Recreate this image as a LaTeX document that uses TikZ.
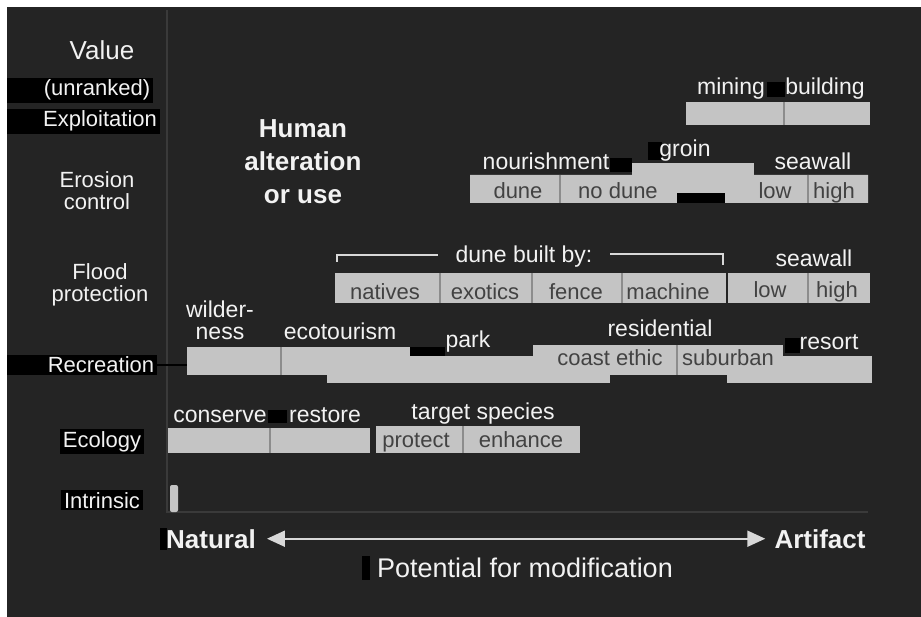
\documentclass[tikz,border=0pt]{standalone}
\usepackage{fontspec}
\setmainfont{Liberation Sans}
\usetikzlibrary{arrows.meta}
\definecolor{bg}{HTML}{242424}
\definecolor{barfill}{HTML}{C4C4C4}
\definecolor{bartext}{HTML}{424242}
\definecolor{divcol}{HTML}{8C8C8C}
\definecolor{axiscol}{HTML}{3A3A3A}
\definecolor{labcol}{HTML}{F2F2F2}
\definecolor{arrcol}{HTML}{D8D8D8}
\begin{document}
\begin{tikzpicture}[x=1pt,y=-1pt,
  lab/.style={text=labcol, font=\fontsize{23}{24}\selectfont, inner sep=0pt},
  side/.style={text=labcol, font=\fontsize{22}{22}\selectfont, fill=black, inner xsep=3pt, inner ysep=2pt},
  bin/.style={text=bartext, font=\fontsize{22}{22}\selectfont, inner sep=0pt},
  big/.style={text=labcol, font=\bfseries\fontsize{26}{28}\selectfont, inner sep=0pt},
  bar/.style={fill=barfill},
  divider/.style={draw=divcol, line width=1.3pt},
  blk/.style={fill=black},
  axis/.style={draw=axiscol, line width=1.5pt},
  brk/.style={draw=arrcol, line width=1.4pt},
  reclink/.style={draw=black, line width=2pt},
  arr/.style={draw=arrcol, line width=2pt, {Triangle[length=18pt,width=16pt]}-{Triangle[length=18pt,width=16pt]}}
]
\useasboundingbox (0,0) rectangle (921,617);
\fill[white] (0,0) rectangle (921,617);
\fill[bg] (7,7) rectangle (921,617);
\coordinate (bgl) at (7,0);
% faint axes
\draw[axis] (167,10) -- (167,512) -- (868,512);

% ---- left value labels
\node[lab, font=\fontsize{26}{27}\selectfont, anchor=base] (lvalue) at (102,60) {Value};
\node[side, anchor=base] (lunr) at (97,96) {(unranked)};
\node[side, anchor=base] (lexp) at (100,127) {Exploitation};
\fill[blk] (lunr.north west) rectangle (lunr.south west -| bgl);
\fill[blk] (lexp.north west) rectangle (lexp.south west -| bgl);
\node[side, fill=none, align=center] (lero) at (97,191) {Erosion\\control};
\node[side, fill=none, align=center, font=\fontsize{22}{22}\selectfont] (lflo) at (100,285) {Flood\\protection};
\node[side, anchor=base] (lrec) at (101,373) {Recreation};
\fill[blk] (lrec.north west) rectangle (lrec.south west -| bgl);
\node[side, anchor=base] (leco) at (102,447) {Ecology};
\node[side, anchor=base] (lint) at (102,508) {Intrinsic};

% ---- title
\node[big, align=center, font=\bfseries\fontsize{26}{33}\selectfont] (human) at (303,162) {Human\\alteration\\or use};

% ---- exploitation
\fill[bar] (686,102) rectangle (870,125);
\draw[divider] (784,102) -- (784,125);
\fill[blk] (767,82) rectangle (785,97);
\node[lab, anchor=base] (mining) at (731,95) {mining};
\node[lab, anchor=base] (building) at (825,95) {building};

% ---- erosion control
\fill[bar] (632,163) rectangle (754,176);
\fill[bar] (470,175) -- (868,175) -- (868,203) -- (725,203) -- (725,193) -- (677,193) -- (677,203) -- (470,203) -- cycle;
\fill[blk] (677,193) rectangle (725,203);
\draw[divider] (560,175) -- (560,203);
\draw[divider] (808,175) -- (808,203);
\fill[blk] (610,158) rectangle (632,172);
\fill[blk] (648,142) rectangle (662,160);
\node[bin, anchor=base] (edune) at (518,199) {dune};
\node[bin, anchor=base] (enodune) at (618,199) {no dune};
\node[bin, anchor=base] (elow) at (775,199) {low};
\node[bin, anchor=base] (ehigh) at (834,199) {high};
\node[lab, anchor=base] (nourish) at (546,170) {nourishment};
\node[lab, anchor=base] (groin) at (685,157) {groin};
\node[lab, anchor=base] (eseawall) at (813,170) {seawall};

% ---- flood protection
\fill[bar] (335,273) rectangle (726,303);
\fill[bar] (728,273) rectangle (870,303);
\foreach \xx in {440,532,622,808} \draw[divider] (\xx,273) -- (\xx,303);
\node[bin, anchor=base] (natives) at (385,300) {natives};
\node[bin, anchor=base] (exotics) at (485,300) {exotics};
\node[bin, anchor=base] (fence) at (576,300) {fence};
\node[bin, anchor=base] (machine) at (668,300) {machine};
\node[bin, anchor=base] (flow) at (770,298) {low};
\node[bin, anchor=base] (fhigh) at (837,298) {high};
\node[lab, anchor=base] (dbb) at (524,263) {dune built by:};
\draw[brk] (337,262) -- (337,255) -- (438,255);
\draw[brk] (610,254) -- (723,254) -- (723,265);
\node[lab, anchor=base] (fseawall) at (814,267) {seawall};

% ---- recreation
\fill[bar] (327,356) rectangle (610,383);
\fill[bar] (727,356) rectangle (872,383);
\fill[bar] (187,347) rectangle (410,375);
\fill[bar] (533,345) rectangle (783,375);
\draw[divider] (281,347) -- (281,375);
\draw[divider] (677,345) -- (677,375);
\fill[blk] (410,347) rectangle (445,356);
\fill[blk] (785,338) rectangle (800,353);
\node[bin, anchor=base] (coast) at (610,366) {coast ethic};
\node[bin, anchor=base] (suburban) at (728,366) {suburban};
\node[lab, anchor=base] (wilder) at (220,318) {wilder-};
\node[lab, anchor=base] (ness) at (220,340) {ness};
\node[lab, anchor=base] (ecot) at (340,340) {ecotourism};
\node[lab, anchor=base] (park) at (468,348) {park};
\node[lab, anchor=base] (resid) at (660,337) {residential};
\node[lab, anchor=base] (resort) at (829,350) {resort};
\coordinate (recbar) at (187,368);
\draw[reclink] (lrec.east) -- (lrec.east -| recbar);

% ---- ecology
\fill[bar] (168,428) rectangle (370,453);
\draw[divider] (270,428) -- (270,453);
\fill[bar] (376,426) rectangle (580,453);
\draw[divider] (463,426) -- (463,453);
\fill[blk] (268,410) rectangle (287,423);
\node[bin, anchor=base] (protect) at (416,447) {protect};
\node[bin, anchor=base] (enhance) at (521,447) {enhance};
\node[lab, anchor=base] (conserve) at (220,422) {conserve};
\node[lab, anchor=base] (restore) at (325,422) {restore};
\node[lab, anchor=base] (target) at (483,420) {target species};

% ---- intrinsic
\fill[bar, rounded corners=2pt] (170,485) rectangle (178,512);

% ---- axis arrow
\fill[blk] (160,528) rectangle (167,550);
\fill[blk] (362,556) rectangle (370,580);
\node[big, anchor=base] (natural) at (211,548) {Natural};
\node[big, anchor=base] (artifact) at (820,548) {Artifact};
\draw[arr, shorten <=11pt, shorten >=9pt] (natural.east) -- (artifact.west);
\node[lab, font=\fontsize{27}{28}\selectfont, anchor=base] (potential) at (525,577) {Potential for modification};
\end{tikzpicture}
\end{document}
